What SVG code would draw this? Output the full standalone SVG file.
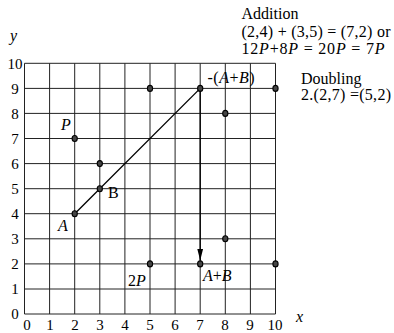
<svg xmlns="http://www.w3.org/2000/svg" width="394" height="333" viewBox="0 0 394 333">
<style>
text{font-family:"Liberation Serif","Times New Roman",serif;fill:#000;}
.t{font-size:16px;}
.tick{font-size:15px;text-anchor:middle;}
.i{font-style:italic;}
.grid line{stroke:#222;stroke-width:1;}
.pt{fill:#444;stroke:#000;stroke-width:1.1;}
</style>
<defs>
<marker id="ah" viewBox="0 0 12 8" refX="12" refY="4" markerWidth="12" markerHeight="8" markerUnits="userSpaceOnUse" orient="auto">
<path d="M0,1 L12,4 L0,7 z" fill="#000"/>
</marker>
</defs>
<rect width="394" height="333" fill="#fff"/>
<g id="grid" class="grid">
<line x1="24.5" y1="63.3" x2="24.5" y2="314"/>
<line x1="49.6" y1="63.3" x2="49.6" y2="314"/>
<line x1="74.7" y1="63.3" x2="74.7" y2="314"/>
<line x1="99.8" y1="63.3" x2="99.8" y2="314"/>
<line x1="124.9" y1="63.3" x2="124.9" y2="314"/>
<line x1="150" y1="63.3" x2="150" y2="314"/>
<line x1="175.1" y1="63.3" x2="175.1" y2="314"/>
<line x1="200.2" y1="63.3" x2="200.2" y2="314"/>
<line x1="225.3" y1="63.3" x2="225.3" y2="314"/>
<line x1="250.4" y1="63.3" x2="250.4" y2="314"/>
<line x1="275.5" y1="63.3" x2="275.5" y2="314"/>
<line x1="24.5" y1="63.3" x2="275.5" y2="63.3"/>
<line x1="24.5" y1="88.4" x2="275.5" y2="88.4"/>
<line x1="24.5" y1="113.4" x2="275.5" y2="113.4"/>
<line x1="24.5" y1="138.5" x2="275.5" y2="138.5"/>
<line x1="24.5" y1="163.6" x2="275.5" y2="163.6"/>
<line x1="24.5" y1="188.7" x2="275.5" y2="188.7"/>
<line x1="24.5" y1="213.7" x2="275.5" y2="213.7"/>
<line x1="24.5" y1="238.8" x2="275.5" y2="238.8"/>
<line x1="24.5" y1="263.9" x2="275.5" y2="263.9"/>
<line x1="24.5" y1="289" x2="275.5" y2="289"/>
<line x1="24.5" y1="314" x2="275.5" y2="314"/>
</g>
<g id="axis-labels">
<text class="t i" x="10" y="41">y</text>
<text class="t i" x="296" y="322">x</text>
<text class="tick" x="15" y="69">10</text>
<text class="tick" x="15" y="94">9</text>
<text class="tick" x="15" y="119">8</text>
<text class="tick" x="15" y="144">7</text>
<text class="tick" x="15" y="169">6</text>
<text class="tick" x="15" y="194">5</text>
<text class="tick" x="15" y="219">4</text>
<text class="tick" x="15" y="244">3</text>
<text class="tick" x="15" y="269">2</text>
<text class="tick" x="15" y="294">1</text>
<text class="tick" x="15" y="319">0</text>
<text class="tick" x="27" y="329.5">0</text>
<text class="tick" x="50" y="329.5">1</text>
<text class="tick" x="75" y="329.5">2</text>
<text class="tick" x="100" y="329.5">3</text>
<text class="tick" x="125" y="329.5">4</text>
<text class="tick" x="150" y="329.5">5</text>
<text class="tick" x="175" y="329.5">6</text>
<text class="tick" x="200" y="329.5">7</text>
<text class="tick" x="225" y="329.5">8</text>
<text class="tick" x="250" y="329.5">9</text>
<text class="tick" x="275" y="329.5">10</text>
</g>
<g id="connectors">
<line x1="74.7" y1="213.7" x2="200.2" y2="88.4" stroke="#000" stroke-width="1.3"/>
<line x1="200.2" y1="88.4" x2="200.2" y2="260.5" stroke="#000" stroke-width="1.3" marker-end="url(#ah)"/>
</g>
<g id="points">
<ellipse class="pt" cx="150" cy="88.4" rx="2.6" ry="3"/>
<ellipse class="pt" cx="200.2" cy="88.4" rx="2.6" ry="3"/>
<ellipse class="pt" cx="275.5" cy="88.4" rx="2.6" ry="3"/>
<ellipse class="pt" cx="225.3" cy="113.4" rx="2.6" ry="3"/>
<ellipse class="pt" cx="74.7" cy="138.5" rx="2.6" ry="3"/>
<ellipse class="pt" cx="99.8" cy="163.6" rx="2.6" ry="3"/>
<ellipse class="pt" cx="99.8" cy="188.7" rx="2.6" ry="3"/>
<ellipse class="pt" cx="74.7" cy="213.7" rx="2.6" ry="3"/>
<ellipse class="pt" cx="225.3" cy="238.8" rx="2.6" ry="3"/>
<ellipse class="pt" cx="150" cy="263.9" rx="2.6" ry="3"/>
<ellipse class="pt" cx="200.2" cy="263.9" rx="2.6" ry="3"/>
<ellipse class="pt" cx="275.5" cy="263.9" rx="2.6" ry="3"/>
</g>
<g id="point-labels">
<text class="t i" x="61" y="129.5">P</text>
<text class="t" x="108" y="197.5">B</text>
<text class="t i" x="58" y="231">A</text>
<text class="t" x="128" y="286">2<tspan class="i">P</tspan></text>
<text class="t" x="203" y="280.5"><tspan class="i">A</tspan>+<tspan class="i">B</tspan></text>
<text class="t" x="207.5" y="83" textLength="47" lengthAdjust="spacing">-(<tspan class="i">A</tspan>+<tspan class="i">B</tspan>)</text>
</g>
<g id="notes">
<text class="t" x="241.5" y="19">Addition</text>
<text class="t" x="241.5" y="36.5" textLength="149" lengthAdjust="spacing">(2,4) + (3,5) = (7,2) or</text>
<text class="t" x="241.5" y="53.5" textLength="143" lengthAdjust="spacing">12<tspan class="i">P</tspan>+8<tspan class="i">P</tspan> = 20<tspan class="i">P</tspan> = 7<tspan class="i">P</tspan></text>
<text class="t" x="301" y="83.5">Doubling</text>
<text class="t" x="301" y="99.5" textLength="90" lengthAdjust="spacing">2.(2,7) =(5,2)</text>
</g>
</svg>
